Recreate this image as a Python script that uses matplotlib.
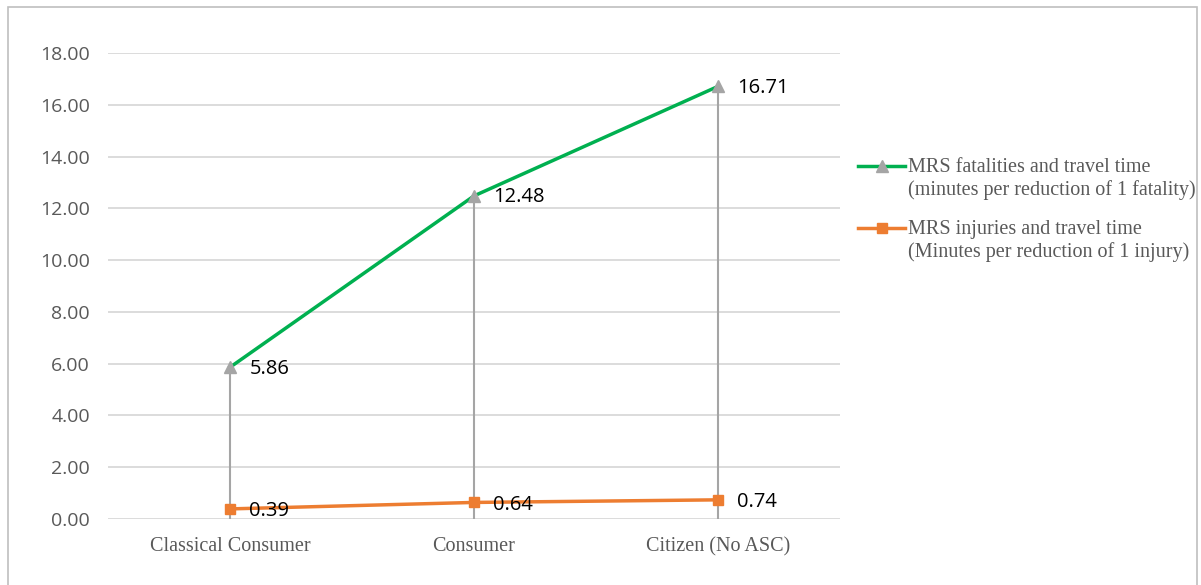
import numpy as np
import matplotlib.pyplot as plt
from matplotlib.lines import Line2D
from matplotlib.patches import Rectangle

categories = ['Classical Consumer', 'Consumer', 'Citizen (No ASC)']
mrs_fatalities = [5.86, 12.48, 16.71]
mrs_injuries = [0.39, 0.64, 0.74]
yticks = np.arange(0, 18.01, 2)
legend_labels = [
    ('MRS fatalities and travel time', '(minutes per reduction of 1 fatality)'),
    ('MRS injuries and travel time', '(Minutes per reduction of 1 injury)'),
]

green = '#00b050'
orange = '#ed7d31'
grey = '#a5a5a5'
text_grey = '#595959'

W, H = 1201, 585
fig = plt.figure(figsize=(W / 100, H / 100), dpi=100)
ax = fig.add_axes([108 / W, 1 - 519 / H, (840 - 108) / W, (519 - 53) / H])

x = np.arange(len(categories))

# high-low lines from zero up to the upper series
for xi, hi in zip(x, mrs_fatalities):
    ax.plot([xi, xi], [0, hi], color=grey, lw=1.5, zorder=2)

ax.plot(x, mrs_fatalities, color=green, lw=2.5, marker='^', ms=8,
        mfc=grey, mec=grey, zorder=3)
ax.plot(x, mrs_injuries, color=orange, lw=2.5, marker='s', ms=7,
        mfc=orange, mec=orange, zorder=3)

for xi, v in zip(x, mrs_fatalities):
    ax.annotate(f'{v:.2f}', (xi, v), xytext=(14, -1), textcoords='offset points',
                ha='left', va='center', fontsize=14.5, family='Open Sans')
for xi, v in zip(x, mrs_injuries):
    ax.annotate(f'{v:.2f}', (xi, v), xytext=(14, -1.5), textcoords='offset points',
                ha='left', va='center', fontsize=14.5, family='Open Sans')

ax.set_xlim(-0.5, 2.5)
ax.set_ylim(0, 18)
ax.set_yticks(yticks)
ax.set_yticklabels([f'{t:.2f}' for t in yticks], fontsize=14,
                   family='Open Sans', color=text_grey)
ax.set_xticks(x)
ax.set_xticklabels(categories, fontsize=14.5, family='Liberation Serif',
                   color=text_grey)
ax.tick_params(length=0)
ax.tick_params(axis='x', pad=13)
ax.tick_params(axis='y', pad=13)
ax.grid(axis='y', color='#d9d9d9', lw=1.3)
ax.set_axisbelow(True)
for s in ax.spines.values():
    s.set_visible(False)

# legend drawn by hand so the key sits on the first text line
handles = [
    dict(color=green, marker='^', ms=8, mfc=grey, mec=grey),
    dict(color=orange, marker='s', ms=7, mfc=orange, mec=orange),
]
rows = [166, 228]
for (l1, l2), style, y in zip(legend_labels, handles, rows):
    yf = 1 - y / H
    fig.add_artist(Line2D([858 / W, 905 / W], [yf, yf], lw=2.5,
                          color=style['color'], transform=fig.transFigure))
    fig.add_artist(Line2D([881.5 / W], [yf], lw=0, marker=style['marker'],
                          ms=style['ms'], mfc=style['mfc'], mec=style['mec'],
                          transform=fig.transFigure))
    fig.text(908 / W, 1 - (y + 2) / H, l1, ha='left', va='center', fontsize=14.5,
             family='Liberation Serif', color=text_grey)
    fig.text(908 / W, 1 - (y + 24) / H, l2, ha='left', va='center', fontsize=14.5,
             family='Liberation Serif', color=text_grey)

# outer chart frame
fig.patches.append(Rectangle((8 / W, -0.01), (1197 - 8) / W, 1 - 7 / H + 0.01,
                             transform=fig.transFigure, fill=False,
                             edgecolor='#bfbfbf', lw=1.2))

fig.savefig('out.png', dpi=100)
